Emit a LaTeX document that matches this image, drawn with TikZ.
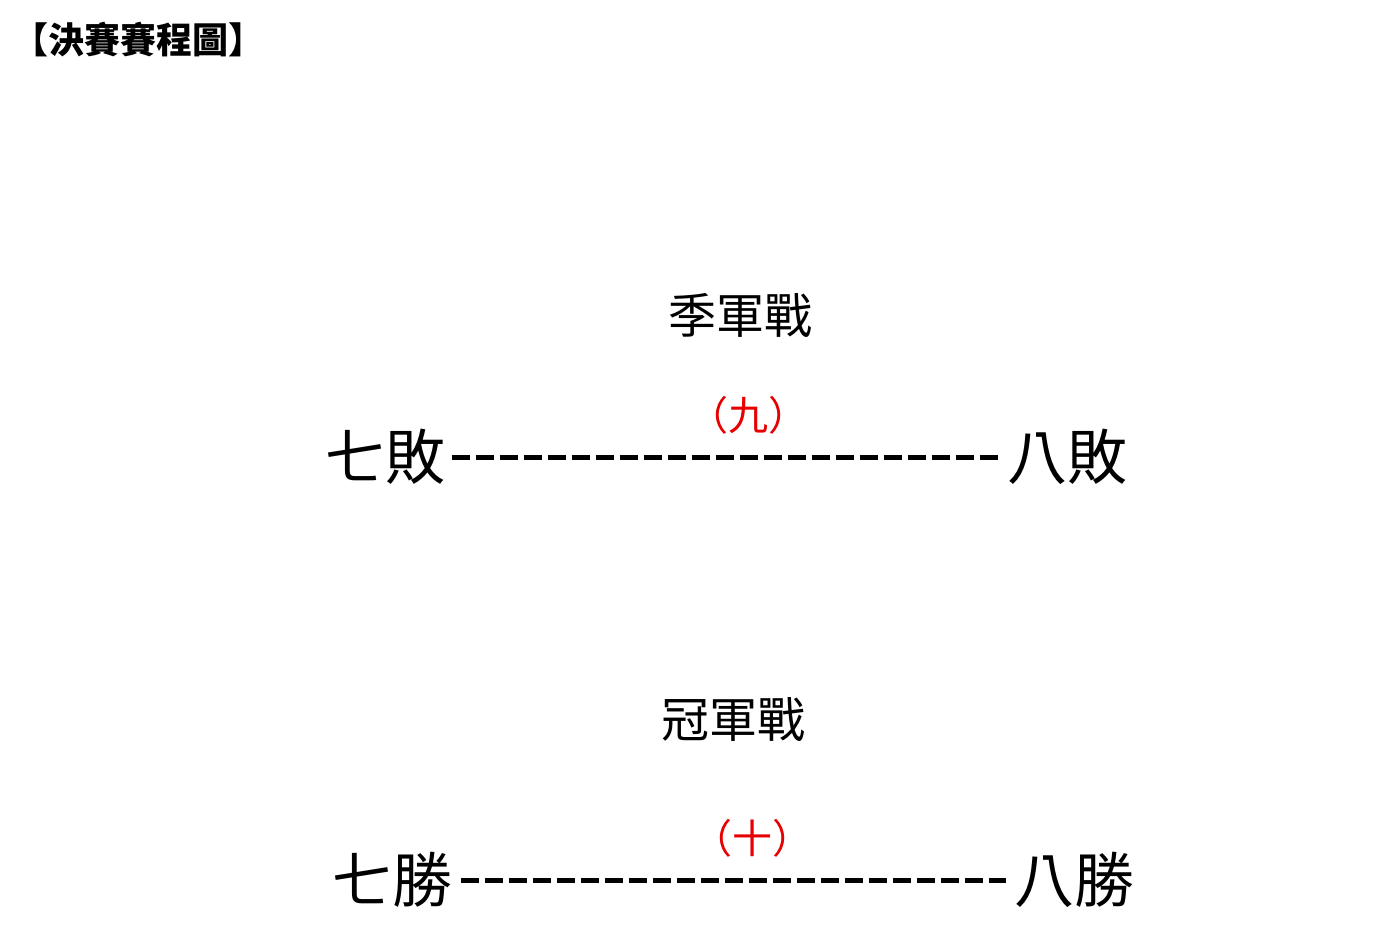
\documentclass[tikz,border=0pt]{standalone}
\usepackage{fontspec}
\setmainfont{Noto Sans CJK TC}
\usetikzlibrary{positioning}
\definecolor{scred}{RGB}{230,0,0}
\tikzset{
  team/.style={inner sep=0pt, font=\fontsize{30}{32}\selectfont},
  game/.style={inner sep=0pt, font=\fontsize{24}{26}\selectfont},
  gameno/.style={inner sep=0pt, text=scred, font=\fontsize{20}{22}\selectfont},
  vsline/.style={line width=2.5pt, dash pattern=on 9pt off 3pt}
}
\begin{document}
\begin{tikzpicture}[x=0.5pt, y=-0.5pt]
    \useasboundingbox (0,0) rectangle (1391,927);

    % Title
    \node[inner sep=0pt, anchor=west, font=\fontsize{18}{20}\selectfont\bfseries] (title) at (12,40) {【決賽賽程圖】};

    % Third place game
    \node[game] (third) at (740,315) {季軍戰};
    \node[gameno] (thirdno) at (748,415) {（九）};
    \node[team, anchor=west] (lose7) at (325,457) {七敗};
    \node[team, anchor=east] (lose8) at (1128,457) {八敗};
    \draw[vsline] (lose7.east) ++(6,0) coordinate (l7) -- ([xshift=-4]lose8.west);

    % Final
    \node[game] (final) at (733,720) {冠軍戰};
    \node[gameno] (finalno) at (752,838) {（十）};
    \node[team, anchor=west] (win7) at (332,880) {七勝};
    \node[team, anchor=east] (win8) at (1135,880) {八勝};
    \draw[vsline] ([xshift=4]win7.east) -- ([xshift=-4]win8.west);
\end{tikzpicture}
\end{document}
